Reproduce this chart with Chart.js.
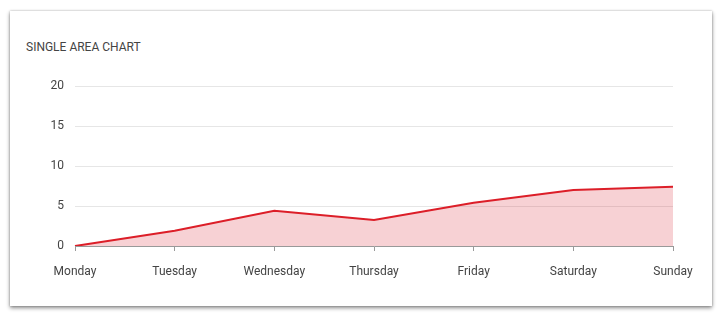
<!DOCTYPE html>
<html>
<head>
<meta charset="utf-8">
<script src="https://cdn.jsdelivr.net/npm/chart.js@4/dist/chart.umd.min.js"></script>
<style>
  html, body { margin: 0; padding: 0; background: #fff; width: 721px; height: 318px; overflow: hidden; }
  #card { position: absolute; left: 10px; top: 11px; width: 702px; height: 295px; background: #fff;
          box-shadow: 0 2px 4px rgba(0,0,0,0.45), 0 0 2px rgba(0,0,0,0.25); }
  #title { position: absolute; left: 16px; top: 29px; font-family: Roboto, sans-serif; font-size: 12px; color: #444; }
  #wrap { position: absolute; left: 0; top: 0; width: 702px; height: 295px; }
</style>
</head>
<body>
<div id="card">
  <div id="title">SINGLE AREA CHART</div>
  <div id="wrap"><canvas id="c"></canvas></div>
</div>
<script>
const categories = ['Monday', 'Tuesday', 'Wednesday', 'Thursday', 'Friday', 'Saturday', 'Sunday'];
const values = [0, 1.9, 4.4, 3.25, 5.4, 7.0, 7.4];
const yTicks = [0, 5, 10, 15, 20];

new Chart(document.getElementById('c'), {
  type: 'line',
  data: {
    labels: categories,
    datasets: [{
      data: values,
      borderColor: 'rgb(220,30,40)',
      backgroundColor: 'rgba(215,25,40,0.2)',
      borderWidth: 2,
      fill: 'origin',
      pointRadius: 0,
      tension: 0
    }]
  },
  options: {
    responsive: true,
    maintainAspectRatio: false,
    animation: false,
    layout: { padding: { top: 75, right: 39, left: 0, bottom: 0 } },
    plugins: { legend: { display: false }, tooltip: { enabled: false } },
    scales: {
      x: {
        afterFit: s => { s.height = 60; },
        border: { display: true, color: '#999', width: 1 },
        grid: { drawOnChartArea: false, drawTicks: true, tickLength: 5, color: '#999' },
        ticks: { padding: 14, color: '#444', font: { family: 'Roboto', size: 12 }, maxRotation: 0 }
      },
      y: {
        min: 0, max: yTicks[yTicks.length - 1],
        afterFit: s => { s.width = 65; },
        afterBuildTicks: s => { s.ticks = yTicks.map(v => ({ value: v })); },
        border: { display: false },
        grid: { drawTicks: false, color: '#e6e6e6', lineWidth: 1 },
        ticks: { padding: 11, color: '#444', font: { family: 'Roboto', size: 12 } }
      }
    }
  }
});
</script>
</body>
</html>
